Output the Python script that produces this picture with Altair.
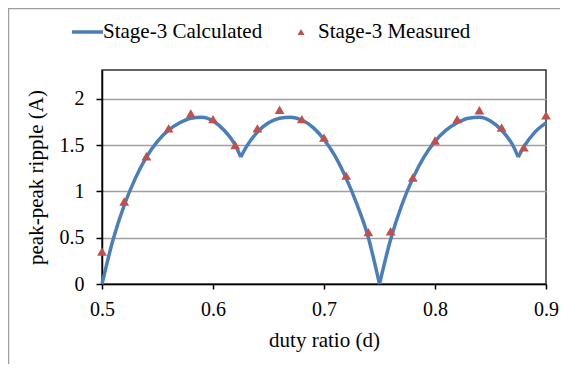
import altair as alt
import pandas as pd

# Calculated curve, split at the cusps / zero
seg1_d = [0.500, 0.510, 0.520, 0.530, 0.540, 0.550, 0.560, 0.570, 0.580, 0.590, 0.600, 0.610, 0.620, 0.625]
seg1_v = [0.00, 0.48, 0.85, 1.14, 1.37, 1.54, 1.66, 1.74, 1.79, 1.80, 1.76, 1.66, 1.50, 1.37]
seg2_d = [0.625, 0.630, 0.640, 0.650, 0.660, 0.670, 0.680, 0.690, 0.700, 0.710, 0.720, 0.730, 0.740, 0.745, 0.750]
seg2_v = [1.37, 1.48, 1.64, 1.74, 1.79, 1.80, 1.77, 1.69, 1.56, 1.38, 1.14, 0.85, 0.50, 0.26, 0.00]
seg3_d = [0.750, 0.760, 0.770, 0.780, 0.790, 0.800, 0.810, 0.820, 0.830, 0.840, 0.850, 0.860, 0.870, 0.875]
seg3_v = [0.00, 0.48, 0.85, 1.14, 1.37, 1.54, 1.66, 1.74, 1.79, 1.80, 1.76, 1.66, 1.50, 1.37]
seg4_d = [0.875, 0.880, 0.890, 0.900]
seg4_v = [1.37, 1.48, 1.64, 1.74]

# Measured points
meas_d = [0.50, 0.52, 0.54, 0.56, 0.58, 0.60, 0.62, 0.64, 0.66, 0.68, 0.70, 0.72, 0.74, 0.76, 0.78, 0.80, 0.82, 0.84, 0.86, 0.88, 0.90]
meas_v = [0.35, 0.89, 1.38, 1.68, 1.84, 1.78, 1.50, 1.68, 1.88, 1.78, 1.58, 1.17, 0.56, 0.57, 1.15, 1.55, 1.78, 1.875, 1.69, 1.475, 1.82]

x_ticks = [0.5, 0.6, 0.7, 0.8, 0.9]
y_ticks = [0, 0.5, 1, 1.5, 2]

calc_label = "Stage-3 Calculated"
meas_label = "Stage-3 Measured"

FONT = "Times New Roman, Liberation Serif, DejaVu Serif, serif"
BLUE = "#4A7EBB"
RED = "#C0504D"

rows = []
for i, (ds, vs) in enumerate([(seg1_d, seg1_v), (seg2_d, seg2_v), (seg3_d, seg3_v), (seg4_d, seg4_v)]):
    for d, v in zip(ds, vs):
        rows.append({"d": d, "v": v, "seg": i})
calc = pd.DataFrame(rows)
meas = pd.DataFrame({"d": meas_d, "v": meas_v})

xscale = alt.Scale(domain=[0.5, 0.9], nice=False, zero=False)
yscale = alt.Scale(domain=[0, 2.31], nice=False)

xaxis = alt.Axis(values=x_ticks, format="~g", title="duty ratio (d)", grid=False, labelFlush=False,
                 labelFont=FONT, labelFontSize=20, labelColor="black", labelPadding=10,
                 tickSize=5, tickColor="black", tickWidth=1.5, domainColor="black", domainWidth=1.5,
                 titleFont=FONT, titleFontSize=21, titleFontWeight="normal", titleColor="black",
                 titlePadding=10)
yaxis = alt.Axis(values=y_ticks, format="~g", title="peak-peak ripple (A)", grid=True, labelFlush=False,
                 gridColor="#A0A0A0", gridWidth=1.3,
                 labelFont=FONT, labelFontSize=20, labelColor="black", labelPadding=12,
                 tickSize=6, tickColor="black", tickWidth=1.5, domainColor="black", domainWidth=1.5,
                 titleFont=FONT, titleFontSize=21, titleFontWeight="normal", titleColor="black",
                 titlePadding=13)

line = alt.Chart(calc).mark_line(color=BLUE, strokeWidth=3.5, interpolate="monotone").encode(
    x=alt.X("d:Q", scale=xscale, axis=xaxis),
    y=alt.Y("v:Q", scale=yscale, axis=yaxis),
    detail="seg:N",
)
pts = alt.Chart(meas).mark_point(shape="triangle-up", filled=True, color=RED, size=95, opacity=1).encode(
    x=alt.X("d:Q", scale=xscale),
    y=alt.Y("v:Q", scale=yscale),
)

one = pd.DataFrame({"k": [0]})
leg_line = alt.Chart(one).mark_rule(color=BLUE, strokeWidth=3.5).encode(
    x=alt.value(-30), x2=alt.value(1), y=alt.value(-38))
leg_text1 = alt.Chart(pd.DataFrame({"t": [calc_label]})).mark_text(
    font=FONT, fontSize=21, align="left", baseline="middle", color="black").encode(
    text="t:N", x=alt.value(1), y=alt.value(-38))
leg_tri = alt.Chart(one).mark_point(shape="triangle-up", filled=True, color=RED, size=50, opacity=1).encode(
    x=alt.value(199), y=alt.value(-38))
leg_text2 = alt.Chart(pd.DataFrame({"t": [meas_label]})).mark_text(
    font=FONT, fontSize=21, align="left", baseline="middle", color="black").encode(
    text="t:N", x=alt.value(216), y=alt.value(-38))

# outer chart frame (top and left edges)
frame_top = alt.Chart(one).mark_rule(color="#A0A0A0", strokeWidth=1.5).encode(
    x=alt.value(-94), x2=alt.value(470), y=alt.value(-61.5))
frame_left = alt.Chart(one).mark_rule(color="#A0A0A0", strokeWidth=1.5).encode(
    x=alt.value(-93.5), y=alt.value(-62), y2=alt.value(300))

chart = alt.layer(frame_top, frame_left, line, pts, leg_line, leg_text1, leg_tri, leg_text2).properties(
    width=444, height=214,
    autosize=alt.AutoSizeParams(type="none"),
    padding={"left": 94, "top": 62, "right": 14, "bottom": 80},
).configure_view(stroke="#303030", strokeWidth=1.5)

chart.save("out.html", embed_options={"renderer": "svg", "actions": False})
